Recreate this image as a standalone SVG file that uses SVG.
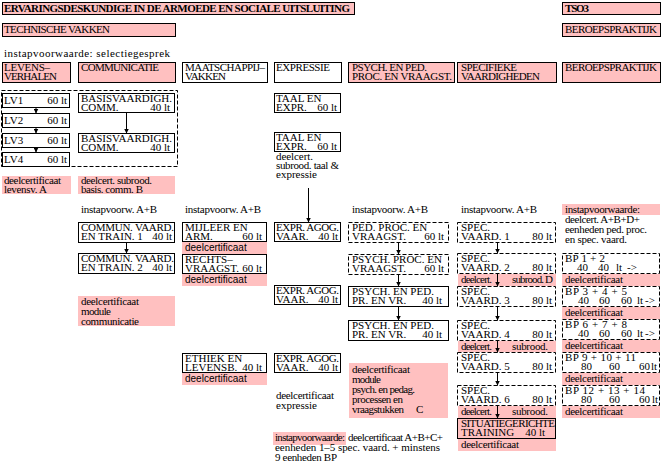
<svg xmlns="http://www.w3.org/2000/svg" width="663" height="464" viewBox="0 0 663 464">
<style>
text{font-family:"Liberation Serif","Times New Roman",serif;font-size:11px;fill:#000}
.s{font-family:"Liberation Sans",Arial,sans-serif;font-size:10px}
.bd{font-weight:bold}
.e{text-anchor:end}
.w{fill:#fff;stroke:#000;stroke-width:1}
.p{fill:#ffc0c0;stroke:#000;stroke-width:1}
.pk{fill:#ffc0c0}
.da{stroke-dasharray:4 2}
.fr{fill:none;stroke:#000;stroke-width:1;stroke-dasharray:4 2}
#connectors line{stroke:#000;stroke-width:1;marker-end:url(#a)}
</style>
<defs>
<marker id="a" markerWidth="5" markerHeight="5" refX="5" refY="2.5" orient="auto" markerUnits="userSpaceOnUse"><path d="M0,0 L5,2.5 L0,5 z" fill="#000"/></marker>
</defs>
<rect width="663" height="464" fill="#fff"/>

<g id="title"><rect class="p" x="2.5" y="2.5" width="352" height="12"/><text class="bd" x="4" y="12" textLength="346">ERVARINGSDESKUNDIGE IN DE ARMOEDE EN SOCIALE UITSLUITING</text></g>
<g id="tso3"><rect class="p" x="562.5" y="2.5" width="98" height="12"/><text class="bd" x="565" y="12" textLength="24">TSO3</text></g>
<g id="technische"><rect class="p" x="2.5" y="23.5" width="173" height="13"/><text x="4" y="33" textLength="106">TECHNISCHE VAKKEN</text></g>
<g id="beroeps-top"><rect class="p" x="562.5" y="23.5" width="98" height="13"/><text x="565" y="33" textLength="92">BEROEPSPRAKTIJK</text></g>
<text x="4" y="57" textLength="166">instapvoorwaarde: selectiegesprek</text>

<g id="h-levens"><rect class="p" x="2.5" y="62.5" width="68" height="20"/><text x="4" y="71" textLength="46">LEVENS–</text><text x="4" y="80" textLength="53">VERHALEN</text></g>
<g id="h-comm"><rect class="p" x="78.5" y="62.5" width="97" height="20"/><text x="81" y="71" textLength="78">COMMUNICATIE</text></g>
<g id="h-maat"><rect class="w" x="182.5" y="62.5" width="85" height="20"/><text x="185" y="71" textLength="80">MAATSCHAPPIJ–</text><text x="185" y="80" textLength="41">VAKKEN</text></g>
<g id="h-expr"><rect class="w" x="274.5" y="62.5" width="67" height="20"/><text x="276" y="71" textLength="54">EXPRESSIE</text></g>
<g id="h-psych"><rect class="p" x="348.5" y="62.5" width="106" height="20"/><text x="352" y="71" textLength="75">PSYCH. EN PED.</text><text x="352" y="80" textLength="100">PROC. EN VRAAGST.</text></g>
<g id="h-spec"><rect class="p" x="457.5" y="62.5" width="99" height="20"/><text x="461" y="71" textLength="56">SPECIFIEKE</text><text x="461" y="80" textLength="79">VAARDIGHEDEN</text></g>
<g id="h-bp"><rect class="p" x="562.5" y="62.5" width="98" height="20"/><text x="565" y="71" textLength="92">BEROEPSPRAKTIJK</text></g>

<rect class="fr" x="1.5" y="90.5" width="176" height="76"/>

<g id="lv1"><rect class="w" x="2.5" y="93.5" width="67" height="14"/><text x="4" y="104">LV1</text><text class="e" x="67" y="104">60 lt</text></g>
<g id="lv2"><rect class="w" x="2.5" y="113.5" width="67" height="14"/><text x="4" y="124">LV2</text><text class="e" x="67" y="124">60 lt</text></g>
<g id="lv3"><rect class="w" x="2.5" y="133.5" width="67" height="14"/><text x="4" y="144">LV3</text><text class="e" x="67" y="144">60 lt</text></g>
<g id="lv4"><rect class="w" x="2.5" y="152.5" width="67" height="14"/><text x="4" y="163">LV4</text><text class="e" x="67" y="163">60 lt</text></g>

<g id="basis1"><rect class="w" x="78.5" y="93.5" width="96" height="19"/><text x="81" y="102" textLength="91">BASISVAARDIGH.</text><text x="81" y="111">COMM.</text><text class="e" x="170" y="111">40 lt</text></g>
<g id="basis2"><rect class="w" x="78.5" y="133.5" width="96" height="19"/><text x="81" y="142" textLength="91">BASISVAARDIGH.</text><text x="81" y="151">COMM.</text><text class="e" x="170" y="151">40 lt</text></g>

<g id="taal1"><rect class="w" x="274.5" y="93.5" width="66" height="19"/><text x="276" y="102">TAAL EN</text><text x="276" y="111">EXPR.</text><text class="e" x="337" y="111">60 lt</text></g>
<g id="taal2"><rect class="w" x="274.5" y="132.5" width="66" height="19"/><text x="276" y="141">TAAL EN</text><text x="276" y="150">EXPR.</text><text class="e" x="337" y="150">60 lt</text></g>
<g id="cert-taal"><text x="276" y="160" textLength="37">deelcert.</text><text x="276" y="169" textLength="63">subrood. taal &amp;</text><text x="276" y="178" textLength="41">expressie</text></g>

<g id="cert-a"><rect class="pk" x="2" y="176" width="69" height="18"/><text x="4" y="184" textLength="57">deelcertificaat</text><text x="4" y="193" textLength="43">levensv. A</text></g>
<g id="cert-b"><rect class="pk" x="78" y="176" width="97" height="18"/><text x="81" y="184" textLength="71">deelcert. subrood.</text><text x="81" y="193" textLength="62">basis. comm. B</text></g>

<text x="81" y="213" textLength="76">instapvoorw. A+B</text>
<text x="185" y="213" textLength="76">instapvoorw. A+B</text>
<text x="352" y="213" textLength="76">instapvoorw. A+B</text>
<text x="461" y="213" textLength="76">instapvoorw. A+B</text>

<g id="commun1"><rect class="w" x="78.5" y="222.5" width="96" height="20"/><text x="81" y="231" textLength="93">COMMUN. VAARD.</text><text x="81" y="240">EN TRAIN. 1</text><text class="e" x="172" y="240">40 lt</text></g>
<g id="commun2"><rect class="w" x="78.5" y="253.5" width="96" height="20"/><text x="81" y="262" textLength="93">COMMUN. VAARD.</text><text x="81" y="271">EN TRAIN. 2</text><text class="e" x="172" y="271">40 lt</text></g>
<g id="cert-comm"><rect class="pk" x="78" y="296" width="97" height="30"/><text x="81" y="305" textLength="58">deelcertificaat</text><text x="81" y="315" textLength="30">module</text><text x="81" y="325" textLength="58">communicatie</text></g>

<g id="mijleer"><rect class="w" x="182.5" y="222.5" width="84" height="19"/><text x="185" y="231">MIJLEER EN</text><text x="185" y="240">ARM.</text><text class="e" x="262" y="240">60 lt</text><rect class="pk" x="182" y="242" width="85" height="12"/><text class="s" x="185" y="251">deelcertificaat</text></g>
<g id="rechts"><rect class="w" x="182.5" y="254.5" width="84" height="19"/><text x="185" y="263">RECHTS–</text><text x="185" y="272">VRAAGST.</text><text class="e" x="262" y="272">60 lt</text><rect class="pk" x="182" y="274" width="85" height="12"/><text class="s" x="185" y="283">deelcertificaat</text></g>
<g id="ethiek"><rect class="w" x="182.5" y="353.5" width="84" height="19"/><text x="185" y="362">ETHIEK EN</text><text x="185" y="371">LEVENSB.</text><text class="e" x="262" y="371">40 lt</text><rect class="pk" x="182" y="373" width="85" height="12"/><text class="s" x="185" y="382">deelcertificaat</text></g>

<g id="agog1"><rect class="w" x="274.5" y="222.5" width="66" height="19"/><text x="276" y="231" textLength="63">EXPR. AGOG.</text><text x="276" y="240">VAAR.</text><text class="e" x="338" y="240">40 lt</text></g>
<g id="agog2"><rect class="w" x="274.5" y="285.5" width="66" height="19"/><text x="276" y="294" textLength="63">EXPR. AGOG.</text><text x="276" y="303">VAAR.</text><text class="e" x="338" y="303">40 lt</text></g>
<g id="agog3"><rect class="w" x="274.5" y="353.5" width="66" height="19"/><text x="276" y="362" textLength="63">EXPR. AGOG.</text><text x="276" y="371">VAAR.</text><text class="e" x="338" y="371">40 lt</text></g>
<g id="cert-expr"><text x="276" y="399" textLength="58">deelcertificaat</text><text x="276" y="409" textLength="41">expressie</text></g>

<g id="pedproc"><rect class="w da" x="348.5" y="222.5" width="100" height="20"/><text x="352" y="231">PED. PROC. EN</text><text x="352" y="240">VRAAGST.</text><text class="e" x="444" y="240">60 lt</text></g>
<g id="psychproc"><rect class="w da" x="348.5" y="254.5" width="100" height="20"/><text x="352" y="263">PSYCH. PROC. EN</text><text x="352" y="272">VRAAGST.</text><text class="e" x="444" y="272">60 lt</text></g>
<g id="psychped1"><rect class="w" x="348.5" y="286.5" width="100" height="20"/><text x="352" y="295">PSYCH. EN PED.</text><text x="352" y="304">PR. EN VR.</text><text class="e" x="442" y="304">40 lt</text></g>
<g id="psychped2"><rect class="w" x="348.5" y="320.5" width="100" height="20"/><text x="352" y="329">PSYCH. EN PED.</text><text x="352" y="338">PR. EN VR.</text><text class="e" x="442" y="338">40 lt</text></g>
<g id="cert-c"><rect class="pk" x="349" y="363" width="99" height="55"/><text x="352" y="373" textLength="58">deelcertificaat</text><text x="352" y="383" textLength="29">module</text><text x="352" y="393" textLength="63">psych. en pedag.</text><text x="352" y="403" textLength="51">processen en</text><text x="352" y="413" textLength="52">vraagstukken</text><text x="416" y="413">C</text></g>

<g id="spec1"><rect class="w da" x="457.5" y="222.5" width="98" height="20"/><text x="461" y="231">SPEC.</text><text x="461" y="240">VAARD. 1</text><text class="e" x="552" y="240">80 lt</text></g>
<g id="spec2"><rect class="w da" x="457.5" y="253.5" width="98" height="20"/><text x="461" y="262">SPEC.</text><text x="461" y="271">VAARD. 2</text><text class="e" x="552" y="271">80 lt</text><rect class="pk" x="458" y="274" width="98" height="12"/><text x="461" y="283" textLength="31">deelcert.</text><text x="512" y="283" textLength="41">subrood. D</text></g>
<g id="spec3"><rect class="w da" x="457.5" y="286.5" width="98" height="20"/><text x="461" y="295">SPEC.</text><text x="461" y="304">VAARD. 3</text><text class="e" x="552" y="304">80 lt</text></g>
<g id="spec4"><rect class="w da" x="457.5" y="320.5" width="98" height="20"/><text x="461" y="329">SPEC.</text><text x="461" y="338">VAARD. 4</text><text class="e" x="552" y="338">80 lt</text><rect class="pk" x="458" y="341" width="98" height="11"/><text x="461" y="350" textLength="31">deelcert.</text><text x="512" y="350" textLength="36">subrood.</text></g>
<g id="spec5"><rect class="w da" x="457.5" y="352.5" width="98" height="20"/><text x="461" y="361">SPEC.</text><text x="461" y="370">VAARD. 5</text><text class="e" x="552" y="370">80 lt</text></g>
<g id="spec6"><rect class="w da" x="457.5" y="385.5" width="98" height="20"/><text x="461" y="394">SPEC.</text><text x="461" y="403">VAARD. 6</text><text class="e" x="552" y="403">80 lt</text><rect class="pk" x="458" y="406" width="98" height="12"/><text x="461" y="415" textLength="31">deelcert.</text><text x="512" y="415" textLength="36">subrood.</text></g>
<g id="situatie"><rect class="p" x="457.5" y="418.5" width="98" height="20"/><text x="461" y="427" textLength="94">SITUATIEGERICHTE</text><text x="461" y="436">TRAINING</text><text class="e" x="545" y="436">40 lt</text><rect class="pk" x="458" y="439" width="98" height="12"/><text x="461" y="448" textLength="58">deelcertificaat</text></g>

<g id="bp-instap"><rect class="pk" x="562" y="204" width="98" height="11"/><text x="565" y="213" textLength="75">instapvoorwaarde:</text><text x="565" y="223" textLength="75">deelcert. A+B+D+</text><text x="565" y="233" textLength="82">eenheden ped. proc.</text><text x="565" y="243" textLength="62">en spec. vaard.</text></g>
<g id="bp1"><rect class="w da" x="562.5" y="253.5" width="97" height="20"/><text x="565" y="262" textLength="40">BP 1 + 2</text><text x="577" y="271">40</text><text x="598" y="271">40</text><text x="616" y="271">lt</text><text x="627" y="271">-&gt;</text><rect class="pk" x="562" y="274" width="98" height="12"/><text x="565" y="283" textLength="58">deelcertificaat</text></g>
<g id="bp2"><rect class="w da" x="562.5" y="286.5" width="97" height="20"/><text x="565" y="295" textLength="62">BP 3 + 4 + 5</text><text x="578" y="304">40</text><text x="599" y="304">60</text><text x="621" y="304">60</text><text x="637" y="304">lt</text><text x="645" y="304">-&gt;</text><rect class="pk" x="562" y="307" width="98" height="12"/><text x="565" y="316" textLength="58">deelcertificaat</text></g>
<g id="bp3"><rect class="w da" x="562.5" y="319.5" width="97" height="20"/><text x="565" y="328" textLength="62">BP 6 + 7 + 8</text><text x="578" y="337">40</text><text x="599" y="337">60</text><text x="621" y="337">60</text><text x="637" y="337">lt</text><text x="645" y="337">-&gt;</text><rect class="pk" x="562" y="340" width="98" height="12"/><text x="565" y="349" textLength="58">deelcertificaat</text></g>
<g id="bp4"><rect class="w da" x="562.5" y="352.5" width="97" height="20"/><text x="565" y="361" textLength="71">BP 9 + 10 + 11</text><text x="581" y="370">80</text><text x="609" y="370">60</text><text x="639" y="370">60</text><text x="651" y="370">lt</text><rect class="pk" x="562" y="373" width="98" height="12"/><text x="565" y="382" textLength="58">deelcertificaat</text></g>
<g id="bp5"><rect class="w da" x="562.5" y="385.5" width="97" height="20"/><text x="565" y="394" textLength="80">BP 12 + 13 + 14</text><text x="581" y="403">80</text><text x="609" y="403">60</text><text x="639" y="403">60</text><text x="652" y="403">lt</text><rect class="pk" x="562" y="406" width="98" height="12"/><text x="565" y="415" textLength="58">deelcertificaat</text></g>

<g id="final-instap"><rect class="pk" x="273" y="432" width="73" height="13"/><text x="275" y="441" textLength="70">instapvoorwaarde:</text><text x="348" y="441" textLength="95">deelcertificaat A+B+C+</text><text x="275" y="451" textLength="165">eenheden 1–5 spec. vaard. + minstens</text><text x="275" y="461" textLength="62">9 eenheden BP</text></g>

<g id="connectors">
<line x1="36" y1="107.5" x2="36" y2="113.5"/>
<line x1="36" y1="127.5" x2="36" y2="133.5"/>
<line x1="36" y1="147.5" x2="36" y2="152.5"/>
<line x1="126.5" y1="112.5" x2="126.5" y2="133.5"/>
<line x1="126.5" y1="242.5" x2="126.5" y2="253.5"/>
<line x1="308.5" y1="188" x2="308.5" y2="222.5"/>
<line x1="398.5" y1="242.5" x2="398.5" y2="254.5"/>
<line x1="398.5" y1="274.5" x2="398.5" y2="286.5"/>
<line x1="398.5" y1="306.5" x2="398.5" y2="320.5"/>
<line x1="497.5" y1="242.5" x2="497.5" y2="253.5"/>
<line x1="497.5" y1="273.5" x2="497.5" y2="286.5"/>
<line x1="497.5" y1="306.5" x2="497.5" y2="320.5"/>
<line x1="497.5" y1="340.5" x2="497.5" y2="352.5"/>
<line x1="497.5" y1="372.5" x2="497.5" y2="385.5"/>
<line x1="497.5" y1="405.5" x2="497.5" y2="418.5"/>
</g>
</svg>
